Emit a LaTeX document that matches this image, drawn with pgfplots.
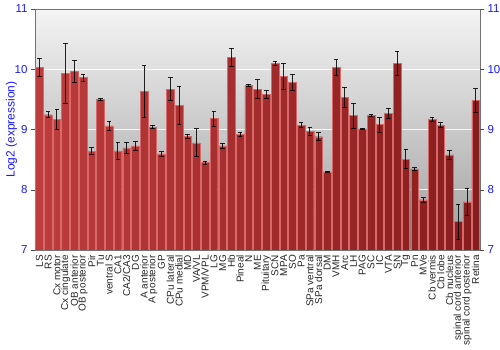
\documentclass[border=0pt]{standalone}
\usepackage{fontspec}
\setmainfont{Liberation Sans}
\usepackage{pgfplots}
\pgfplotsset{compat=1.18}
\definecolor{tickblue}{RGB}{25,25,255}
\definecolor{barL}{RGB}{190,60,60}
\definecolor{barM}{RGB}{205,78,78}
\definecolor{barR}{RGB}{135,28,28}
\definecolor{barEdge}{RGB}{215,105,105}
\definecolor{bgTop}{RGB}{244,244,244}
\definecolor{bgBot}{RGB}{158,158,158}
\begin{document}
\begin{tikzpicture}
\begin{axis}[
  width=445pt, height=241pt, scale only axis,
  xmin=0.5, xmax=51.5, ymin=7, ymax=11,
  ytick={7,8,9,10,11},
  yticklabel pos=left,
  ymajorgrids,
  grid style={white, line width=1pt, opacity=0.85},
  axis background/.style={top color=bgTop, bottom color=bgBot},
  axis line style={black!55},
  tick align=outside,
  major tick length=4pt,
  ytick style={black!70},
  xtick={1,...,51},
  major x tick style={draw=none},
  xticklabels={LS,RS,Cx motor,Cx cingulate,OB anterior,OB posterior,Pir,Tu,ventral S,CA1,CA2/CA3,DG,A anterior,A posterior,GP,CPu lateral,CPu medial,MD,VA/VL,VPM/VPL,LG,MG,Hb,Pineal,N,ME,Pituitary,SCN,MPA,SO,Pa,SPa ventral,SPa dorsal,DM,VMH,Arc,LH,PAG,SC,IC,VTA,SN,Tg,Pn,MVe,Cb vermis,Cb lobe,Cb nucleus,spinal cord anterior,spinal cord posterior,Retina},
  xticklabel style={rotate=90, anchor=east, font=\fontsize{10}{11}\selectfont, text=black!85, inner sep=1pt},
  yticklabel style={font=\fontsize{11.5}{13}\selectfont, text=tickblue},
  /pgf/number format/assume math mode=true,
  ylabel={Log2 (expression)},
  ylabel style={font=\fontsize{12}{14}\selectfont, text=tickblue, inner sep=1pt},
  ylabel shift=-7pt,
  clip=true,
]
\addplot[ybar, bar width=7.7pt, left color=barL, middle color=barM, right color=barR, draw=barEdge, line width=0.4pt,
  error bars/.cd, y dir=both, y explicit,
  error bar style={black, line width=0.8pt, opacity=0.85},
  error mark options={rotate=90, mark size=2.3pt, black, line width=0.8pt}]
coordinates {
(1,10.03) +- (0,0.15)
(2,9.245) +- (0,0.05)
(3,9.17) +- (0,0.17)
(4,9.93) +- (0,0.5)
(5,9.97) +- (0,0.18)
(6,9.86) +- (0,0.06)
(7,8.64) +- (0,0.055)
(8,9.5) +- (0,0.02)
(9,9.06) +- (0,0.075)
(10,8.645) +- (0,0.14)
(11,8.695) +- (0,0.09)
(12,8.73) +- (0,0.07)
(13,9.63) +- (0,0.43)
(14,9.045) +- (0,0.03)
(15,8.595) +- (0,0.035)
(16,9.67) +- (0,0.19)
(17,9.4) +- (0,0.32)
(18,8.89) +- (0,0.035)
(19,8.78) +- (0,0.23)
(20,8.45) +- (0,0.025)
(21,9.18) +- (0,0.125)
(22,8.73) +- (0,0.04)
(23,10.2) +- (0,0.15)
(24,8.92) +- (0,0.04)
(25,9.73) +- (0,0.017)
(26,9.67) +- (0,0.155)
(27,9.58) +- (0,0.065)
(28,10.1) +- (0,0.03)
(29,9.88) +- (0,0.22)
(30,9.78) +- (0,0.13)
(31,9.07) +- (0,0.04)
(32,8.97) +- (0,0.07)
(33,8.88) +- (0,0.065)
(34,8.295) +- (0,0.012)
(35,10.03) +- (0,0.13)
(36,9.53) +- (0,0.17)
(37,9.23) +- (0,0.21)
(38,9.01) +- (0,0.01)
(39,9.23) +- (0,0.015)
(40,9.08) +- (0,0.12)
(41,9.27) +- (0,0.08)
(42,10.1) +- (0,0.2)
(43,8.51) +- (0,0.16)
(44,8.345) +- (0,0.02)
(45,7.83) +- (0,0.04)
(46,9.17) +- (0,0.03)
(47,9.07) +- (0,0.04)
(48,8.58) +- (0,0.08)
(49,7.47) +- (0,0.29)
(50,7.8) +- (0,0.23)
(51,9.48) +- (0,0.195)
};
\end{axis}
\begin{axis}[
  width=445pt, height=241pt, scale only axis,
  xmin=0.5, xmax=51.5, ymin=7, ymax=11,
  ytick={7,8,9,10,11},
  yticklabel pos=right,
  axis line style={draw=none},
  xtick=\empty,
  tick align=outside,
  major tick length=4pt,
  ytick style={black!70},
  yticklabel style={font=\fontsize{11.5}{13}\selectfont, text=tickblue},
  /pgf/number format/assume math mode=true,
]
\addplot[draw=none] coordinates {(1,7)};
\end{axis}
\pgfresetboundingbox
\path[use as bounding box] ([xshift=-35pt,yshift=-100pt]current axis.south west) rectangle ++(500pt,350pt);
\end{tikzpicture}
\end{document}
